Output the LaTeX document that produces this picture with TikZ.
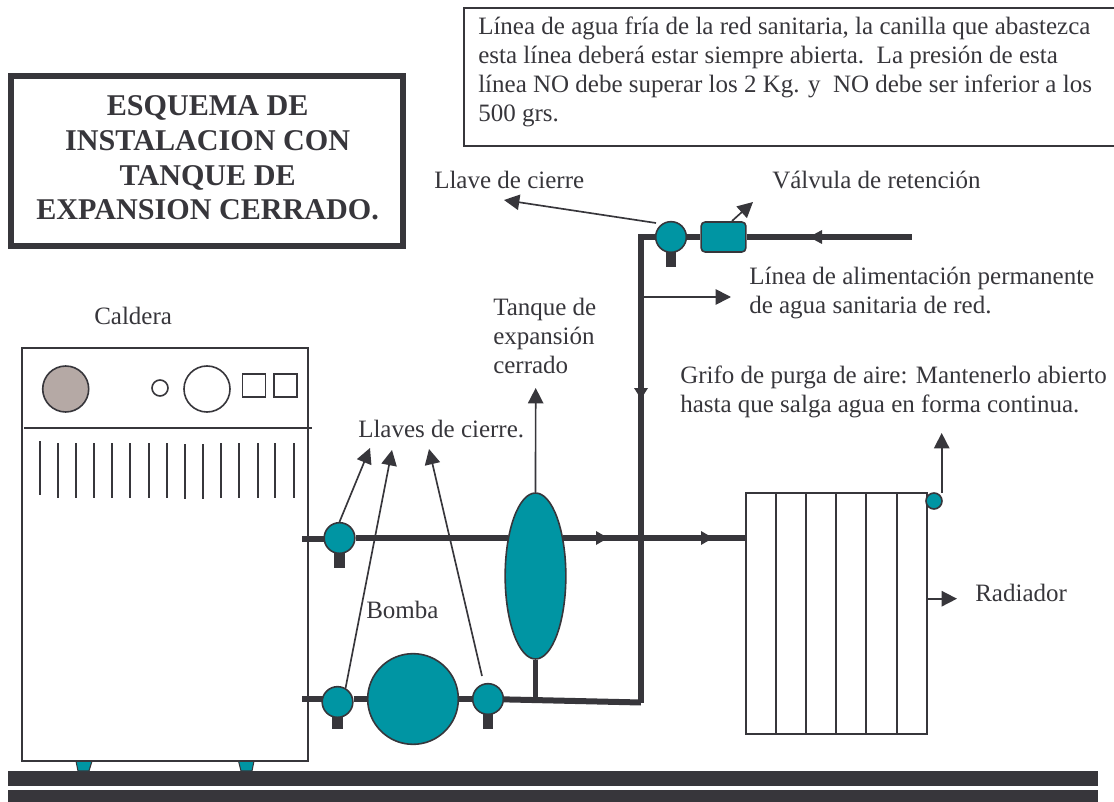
\documentclass[tikz,border=0pt]{standalone}
\usepackage{fontspec}
\setmainfont{Liberation Serif}
\usetikzlibrary{arrows.meta,shapes.geometric}
\definecolor{ink}{HTML}{37363B}
\definecolor{teal}{HTML}{0095A3}
\definecolor{taupe}{HTML}{B5A9A5}
\tikzset{
 x=0.75pt,y=-0.75pt,
 box line/.style={draw=ink,line width=1.3pt},
 pipe/.style={draw=ink,line width=4.5pt},
 leader/.style={draw=ink,line width=1.25pt,-{Triangle[length=11.5pt,width=11.5pt]}},
 valve/.style={circle,draw=ink,line width=1.2pt,fill=teal,minimum size=23pt,inner sep=0pt},
 stemline/.style={draw=ink,line width=8pt},
 lab/.style={text=ink,font=\fontsize{18.75}{21.6}\selectfont,inner sep=0pt,align=left,anchor=west},
 foot/.style={fill=teal,draw=ink,line width=.8pt},
 flowtip/.style={fill=ink,draw=none},
 small part/.style={draw=ink,line width=1.2pt,inner sep=0pt},
}
\begin{document}
\begin{tikzpicture}
\useasboundingbox (0,0) rectangle (1114,802);
% title
\node[draw=ink,line width=4.5pt,minimum width=294pt,minimum height=127.5pt,inner sep=0pt] (title) at (207,161) {};
\node[text=ink,font=\bfseries\fontsize{22.6}{25.9}\selectfont,align=center,inner sep=0pt] (titletext) at (207.7,158) {ESQUEMA DE\\INSTALACION CON\\TANQUE DE\\EXPANSION CERRADO.};
% note box
\draw[box line] (1114,8) -- (464,8) -- (464,146) -- (1114,146);
\node[lab] (note) at (478,72) {Línea de agua fría de la red sanitaria, la canilla que abastezca\\esta línea deberá estar siempre abierta.\ \ La presión de esta\\línea NO debe superar los 2 Kg. y\ \ NO debe ser inferior a los\\500 grs.};
% floor
\fill[ink] (8,771) rectangle (1098,786);
\fill[ink] (8,790) rectangle (1098,802);
% feet
\filldraw[foot] (76,761) -- (92,761) -- (89,771) -- (78,771) -- cycle;
\filldraw[foot] (238.5,761) -- (254,761) -- (252,771) -- (241,771) -- cycle;
% boiler
\node[draw=ink,line width=1.2pt,fill=white,minimum width=214.5pt,minimum height=309.75pt,inner sep=0pt] (boiler) at (165,554.5) {};
\draw[box line,line width=1.1pt] (24,428) -- (312,428);
\foreach \vx/\vy/\vz in {40/441/495,58/443/498,76/443/498,94/443/498,112/443/498,130/443/498,149/443/498,167/443/498,185/444/499,203/444/499,221/443/498,239/443/498,258/443/498,275/443/498,294/443/498}
  \draw[draw=ink,line width=1.1pt] (\vx,\vy) -- (\vx,\vz);
\node[circle,small part,fill=taupe,minimum size=34.5pt] (gauge) at (65.7,389) {};
\node[circle,small part,minimum size=12pt] (smallknob) at (160,388) {};
\node[circle,small part,minimum size=34.5pt] (dial) at (207,389) {};
\node[small part,minimum size=17.5pt] (sqa) at (254,385.5) {};
\node[small part,minimum size=17.5pt] (sqb) at (285.5,385.5) {};
% named points
\coordinate (hotout) at (302,539);
\coordinate (retin) at (302,699);
\coordinate (lowcorner) at (641,702.5);
\coordinate (topcorner) at (641,237);
\coordinate (supply) at (912,237);
% stems
\coordinate (s1) at (339.5,568); \coordinate (s2) at (337.5,729); \coordinate (s3) at (488,729); \coordinate (s4) at (671,267);
\draw[stemline] (339.5,538) -- (s1);
\draw[stemline] (337.5,702) -- (s2);
\draw[stemline] (488,699) -- (s3);
\draw[stemline] (671,237) -- (s4);
% radiator
\node[draw=ink,line width=1.3pt,minimum width=135.5pt,minimum height=180.75pt,inner sep=0pt] (radiator) at (836.5,613.5) {};
\foreach \rx in {776,806.3,836.3,866.3,896.7}
  \draw[draw=ink,line width=1.3pt] (\rx,493) -- (\rx,734);
% pipes behind the components
\coordinate (v2in) at (337.5,699);
\draw[pipe] (retin) -- (v2in);
\coordinate (v1in) at (339.5,539);
\draw[pipe] (hotout) -- (v1in);
% components
\node[valve] (v1) at (339.5,538) {};
\node[valve] (v2) at (337.5,702) {};
\node[valve] (v3) at (488,699) {};
\node[valve] (v4) at (671,237) {};
\node[circle,draw=ink,line width=1.2pt,fill=teal,minimum size=68pt,inner sep=0pt] (pump) at (413,699) {};
\node[ellipse,draw=ink,line width=1.2pt,fill=teal,minimum width=45.5pt,minimum height=124.5pt,inner sep=0pt] (tank) at (535.5,576) {};
\node[rectangle,rounded corners=3pt,draw=ink,line width=1.2pt,fill=teal,minimum width=33.5pt,minimum height=22.5pt,inner sep=0pt] (check) at (723.5,237) {};
\node[circle,draw=ink,line width=1.2pt,fill=teal,minimum size=12pt,inner sep=0pt] (purge) at (934,501) {};
% pipes
\draw[pipe] (v1) -- (tank.125 |- v1);
\draw[pipe] (tank.55 |- v1) -- (radiator.west |- v1);
\draw[pipe] (v2.east |- pump) -- (pump);
\draw[pipe] (pump) -- (v3);
\draw[pipe] (v3) -- (lowcorner);
\draw[draw=ink,line width=3.8pt] (tank) -- (tank |- lowcorner);
\draw[pipe,line join=miter] (lowcorner) -- (topcorner) -- (v4);
\draw[pipe] (v4) -- (check);
\draw[pipe] (check) -- (supply);
% flow arrowheads
\fill[flowtip] (596,531) -- (608,538) -- (596,545) -- cycle;
\fill[flowtip] (701,531) -- (713,538) -- (701,545) -- cycle;
\fill[flowtip] (822,230) -- (809,237) -- (822,244) -- cycle;
\fill[flowtip] (634,388) -- (641,399) -- (648,388) -- cycle;
% leaders
\coordinate (cierrefrom) at (656,223);
\coordinate (cierre) at (504,200);
\coordinate (retfrom) at (732,221);
\coordinate (retencion) at (753,202);
\coordinate (sideline) at (641,297);
\coordinate (sidetip) at (731,297);
\coordinate (tanktip) at (535.7,388);
\coordinate (purgefrom) at (941.7,493);
\coordinate (purgetip) at (941.7,433);
\coordinate (radfrom) at (927,598.7);
\coordinate (radtip) at (957,598.7);
\coordinate (lla) at (370,448);
\coordinate (llb) at (392,450);
\coordinate (llc) at (429,449);
\coordinate (llfrom) at (482,676);
\draw[leader] (cierrefrom) -- (cierre);
\draw[leader] (retfrom) -- (retencion);
\draw[leader] (sideline) -- (sidetip);
\draw[leader] (tank.north) -- (tanktip);
\draw[leader] (purgefrom) -- (purgetip);
\draw[leader] (radfrom) -- (radtip);
\draw[leader] (v1.north) -- (lla);
\draw[leader] (v2.60) -- (llb);
\draw[leader] (llfrom) -- (llc);
% labels
\node[lab] (lcierre) at (434,180) {Llave de cierre};
\node[lab] (lvalv) at (772,180) {Válvula de retención};
\node[lab] (lalim) at (749,293) {Línea de alimentación permanente\\de agua sanitaria de red.};
\node[lab] (ltanque) at (493,336) {Tanque de\\expansión\\cerrado};
\node[lab] (lcald) at (94,316) {Caldera};
\node[lab] (lllaves) at (358,429) {Llaves de cierre.};
\node[lab] (lbomba) at (366,610) {Bomba};
\node[lab] (lgrifo) at (680,392) {Grifo de purga de aire: Mantenerlo abierto\\hasta que salga agua en forma continua.};
\node[lab] (lrad) at (975,593) {Radiador};
\end{tikzpicture}
\end{document}
